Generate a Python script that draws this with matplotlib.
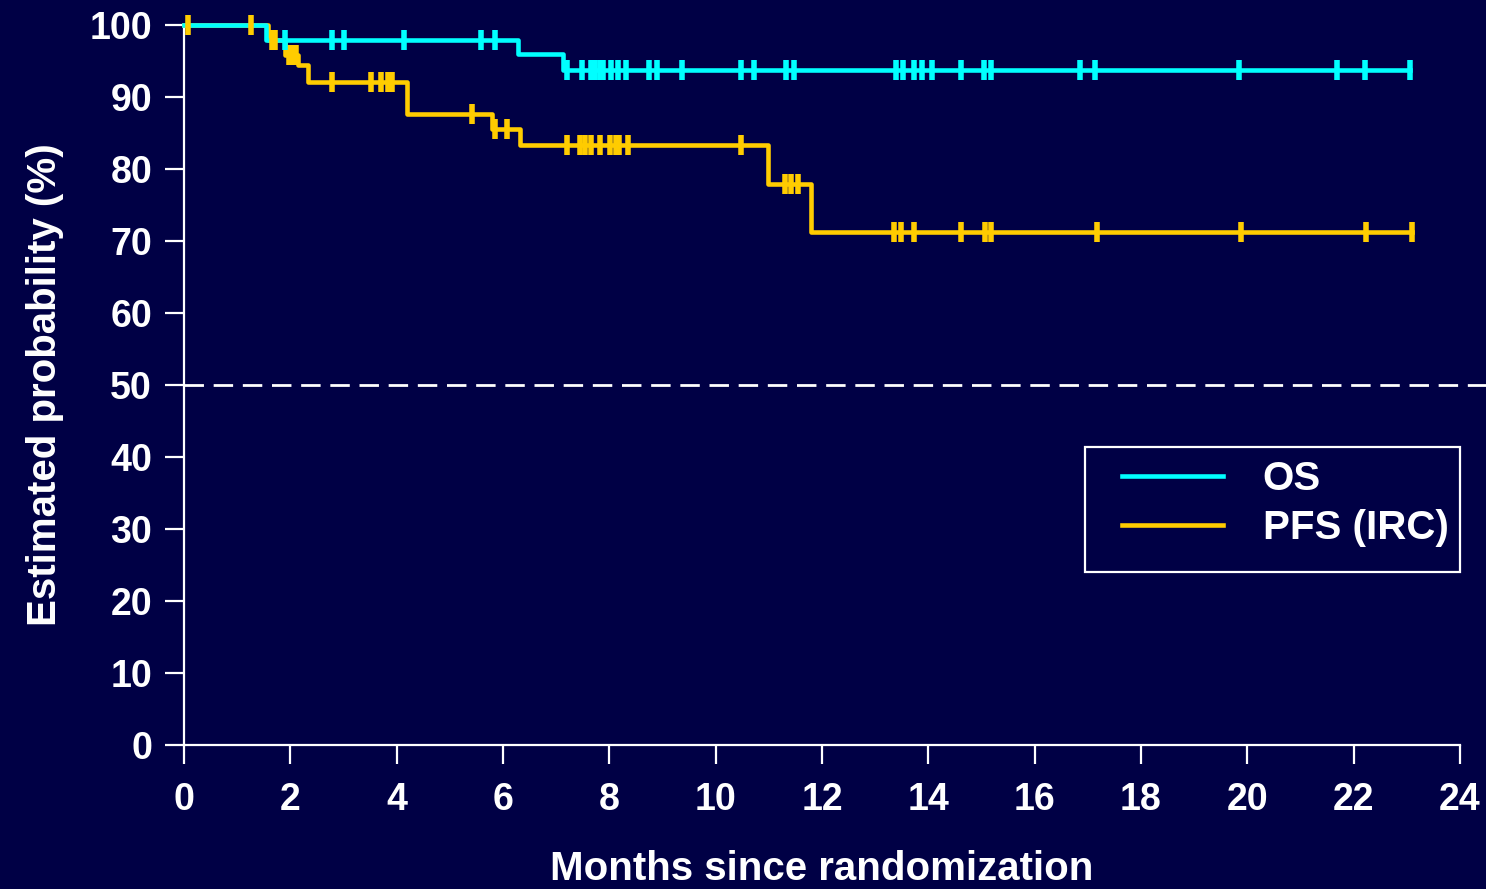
import numpy as np
import matplotlib.pyplot as plt
from matplotlib.lines import Line2D
from matplotlib.patches import Rectangle

# Kaplan-Meier step curves (months, %)
os_t = [0, 1.55, 6.28, 7.13, 23.06]
os_s = [100, 97.9, 96.0, 93.8, 93.8]
os_cens = [1.9, 2.78, 3.01, 4.14, 5.59, 5.85, 7.2, 7.49, 7.66, 7.74, 7.82, 7.88,
           8.04, 8.17, 8.31, 8.75, 8.89, 9.36, 10.48, 10.73, 11.32, 11.48, 13.40,
           13.53, 13.73, 13.89, 14.06, 14.61, 15.05, 15.17, 16.85, 17.13, 19.85,
           21.68, 22.22, 23.06]

pfs_t = [0, 1.58, 1.9, 2.15, 2.33, 4.2, 5.8, 6.32, 10.99, 11.8, 23.09]
pfs_s = [100, 97.9, 95.8, 94.4, 92.1, 87.7, 85.6, 83.3, 77.9, 71.2, 71.2]
pfs_cens = [0.08, 1.26, 1.65, 1.72, 1.98, 2.05, 2.1, 2.78, 3.52, 3.70, 3.84, 3.92,
            5.41, 5.85, 6.08, 7.2, 7.44, 7.55, 7.66, 7.82, 8.02, 8.12, 8.19, 8.35,
            10.47, 11.3, 11.42, 11.55, 13.36, 13.48, 13.74, 14.61, 15.06, 15.18,
            17.18, 19.89, 22.23, 23.09]

bg = '#000045'
cyan = '#00FFFF'
gold = '#FFCC00'

plt.rcParams['font.family'] = ['Liberation Sans', 'DejaVu Sans']
plt.rcParams['font.weight'] = 'bold'

fig = plt.figure(figsize=(14.86, 8.89), dpi=100, facecolor=bg)
ax = fig.add_axes([0.1238, 0.162, 0.8587, 0.8099])
ax.set_facecolor(bg)


def km_value(t, s, x):
    idx = np.searchsorted(t, x, side='right') - 1
    return np.array(s)[idx]


for t, s, cens, col in [(pfs_t, pfs_s, pfs_cens, gold), (os_t, os_s, os_cens, cyan)]:
    ax.step(t, s, where='post', color=col, lw=3.3, zorder=3, clip_on=False)
    ax.plot(cens, km_value(t, s, cens), ls='none', marker='|', ms=14,
            mew=4, color=col, zorder=4, clip_on=False)

ax.plot([0, 24.5], [50, 50], color='white', lw=2, ls=(0, (7, 3.5)),
        clip_on=False, zorder=2)

ax.set_xlim(0, 24)
ax.set_ylim(0, 100)
ax.set_xticks(np.arange(0, 25, 2))
ax.set_yticks(np.arange(0, 101, 10))
for side in ['top', 'right']:
    ax.spines[side].set_visible(False)
for side in ['left', 'bottom']:
    ax.spines[side].set_color('white')
    ax.spines[side].set_linewidth(1.6)
ax.tick_params(axis='both', colors='white', length=14, width=1.6,
               labelsize=27)
ax.tick_params(axis='x', pad=13)
ax.tick_params(axis='y', pad=9)
for lab in ax.get_xticklabels() + ax.get_yticklabels():
    lab.set_fontweight('bold')

ax.set_xlabel('Months since randomization', color='white', fontsize=29,
              fontweight='bold', labelpad=23)
ax.set_ylabel('Estimated probability (%)', color='white', fontsize=29,
              fontweight='bold', labelpad=18)

# legend: frameless entries plus a separate box
ax.add_patch(Rectangle((0.706, 0.240), 0.294, 0.174, transform=ax.transAxes,
                       fill=False, edgecolor='white', lw=1.6, clip_on=False,
                       zorder=5))
handles = [Line2D([], [], color=cyan, lw=3.3), Line2D([], [], color=gold, lw=3.3)]
leg = ax.legend(handles, ['OS', 'PFS (IRC)'], loc='upper left',
                bbox_to_anchor=(0.735, 0.396), frameon=False, fontsize=29,
                handlelength=2.5, handletextpad=1.0, labelspacing=0.27,
                borderpad=0, borderaxespad=0)
leg.set_zorder(5)
for txt in leg.get_texts():
    txt.set_color('white')
    txt.set_fontweight('bold')

fig.savefig('out.png', dpi=100, facecolor=bg)
